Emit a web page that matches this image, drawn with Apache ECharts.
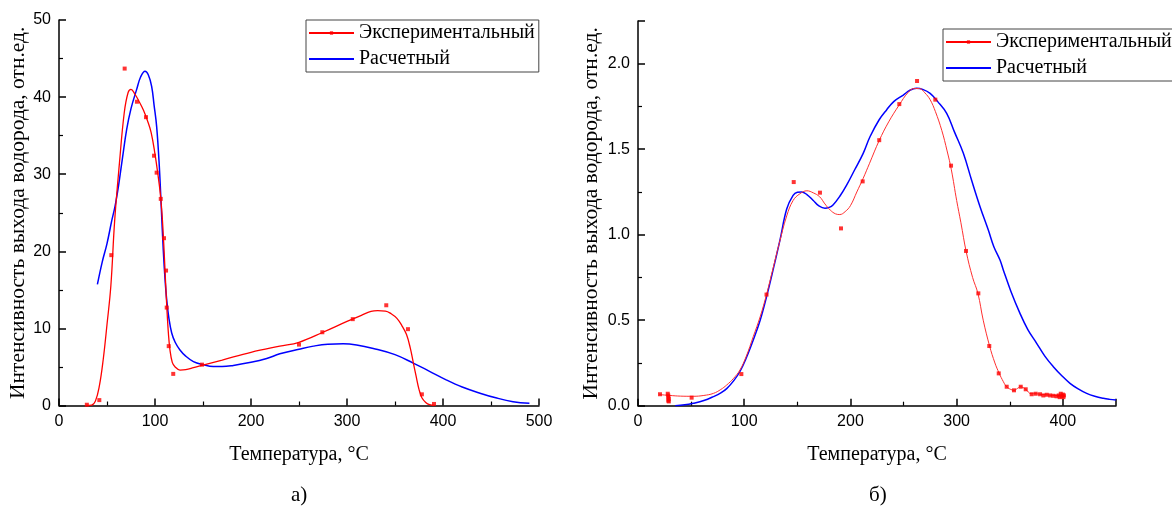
<!DOCTYPE html>
<html>
<head>
<meta charset="utf-8">
<script src="https://cdn.jsdelivr.net/npm/echarts@6/dist/echarts.min.js"></script>
<style>
  html, body { margin: 0; padding: 0; background: #fff; }
  #chart { width: 1172px; height: 513px; }
</style>
</head>
<body>
<div id="chart"></div>
<script>
// а) левый график: экспериментальные точки, сглаженная кривая и расчет
const expPointsA = [
  [29, 0.1], [42, 0.7], [54.5, 19.5], [68.4, 43.7], [81.2, 39.4], [90.6, 37.4], [99, 32.4],
  [101.7, 30.2], [106, 26.8], [109.4, 21.7], [111.5, 17.5], [112.2, 12.7], [114.3, 7.7],
  [119, 4.1], [149, 5.3], [250, 7.9], [274.3, 9.5], [306, 11.2], [340.9, 13.0],
  [363.5, 9.9], [378, 1.45], [390.6, 0.2]
];
const expCurveA = [
  [28, 0], [34, 0.05], [38, 0.6], [42, 2.5], [46, 5.9], [50, 10.5], [54, 15.5], [58, 24],
  [63, 31.5], [68, 38], [72, 40.6], [75, 41], [79, 40.4], [84, 39.3], [88, 38.3], [92, 37],
  [96, 35.4], [100, 32.6], [103, 30], [105.5, 27.5], [107.5, 24.5], [109.5, 20], [111, 16],
  [112.5, 12.3], [114, 9.3], [115.5, 7.3], [118, 5.6], [121, 5.0], [126, 4.6], [132, 4.65],
  [140, 4.9], [150, 5.25], [170, 5.9], [200, 6.9], [230, 7.7], [250, 8.2], [275, 9.5],
  [300, 10.9], [315, 11.7], [325, 12.2], [332, 12.3], [340, 12.25], [346, 11.9], [352, 11.3],
  [357, 10.4], [362, 9.2], [366, 7.4], [369, 5.6], [372, 3.8], [375, 2.1], [378, 1.0],
  [382, 0.4], [386, 0.1], [391, 0]
];
const calcCurveA = [
  [40, 15.7], [45, 18.6], [50, 21], [55, 24], [58.3, 25.8], [62, 28.5], [66, 32], [70.5, 35.8],
  [75, 38.5], [80.9, 41], [85, 42.6], [89.6, 43.35], [93, 42.9], [96.5, 41.4], [99, 39],
  [101.7, 36.2], [104.5, 31], [106.5, 25.8], [108.6, 20.2], [110.5, 16.3], [112.2, 13.7],
  [114.5, 11.3], [117.4, 9.4], [121, 8.2], [126, 7.2], [132, 6.4], [140, 5.7], [150, 5.3],
  [160.7, 5.05], [170, 5.05], [181.6, 5.2], [200, 5.6], [216.4, 6.1], [230, 6.7], [250, 7.3],
  [265, 7.7], [280, 7.95], [296, 8.0], [310, 7.85], [327.4, 7.4], [350, 6.6], [369, 5.5],
  [385, 4.5], [403.8, 3.3], [420, 2.4], [438.5, 1.6], [455, 1.0], [473, 0.5], [490, 0.3]
];

// б) правый график
const expPointsB = [
  [20.7, 0.067], [28, 0.07], [28.5, 0.06], [28.5, 0.05], [29, 0.04], [28.5, 0.03], [29, 0.025],
  [50.5, 0.047], [97.3, 0.185], [121, 0.65], [146.6, 1.308], [171.3, 1.246], [191.1, 1.037],
  [211.5, 1.312], [227.1, 1.553], [246, 1.764], [262.7, 1.899], [279.9, 1.79], [294.7, 1.404],
  [308.8, 0.905], [320.4, 0.657], [330.7, 0.349], [339.6, 0.189], [347.1, 0.111], [354, 0.09],
  [360.3, 0.111], [365, 0.096], [370.6, 0.067], [374.4, 0.07], [378.5, 0.067], [381.6, 0.06],
  [384.8, 0.064], [388, 0.06], [391, 0.058], [394, 0.055], [396, 0.06], [397, 0.05],
  [398, 0.07], [399, 0.055], [400, 0.065], [401, 0.06], [400.5, 0.05]
];
const expCurveB = [
  [20, 0.065], [30, 0.06], [40, 0.056], [52, 0.055], [62, 0.06], [71, 0.072], [78, 0.095],
  [83.5, 0.121], [90, 0.16], [96, 0.209], [102, 0.29], [108.5, 0.404], [115, 0.52], [121, 0.65],
  [127, 0.8], [133, 0.95], [140, 1.11], [146, 1.2], [152.5, 1.24], [159, 1.257], [165, 1.245],
  [171, 1.222], [176, 1.18], [181, 1.144], [186, 1.122], [190, 1.118], [195, 1.135], [200, 1.17],
  [206, 1.25], [212, 1.33], [218, 1.418], [227, 1.55], [236, 1.66], [246, 1.76], [254, 1.83],
  [260, 1.855], [265, 1.855], [270, 1.83], [275, 1.79], [280, 1.72], [286, 1.61], [291, 1.49],
  [295, 1.38], [300, 1.2], [304, 1.07], [309, 0.9], [315, 0.75], [320, 0.657], [325, 0.5],
  [331, 0.349], [336, 0.25], [340, 0.19], [344, 0.14], [347, 0.111], [351, 0.095], [354, 0.09],
  [357, 0.1], [360, 0.111], [365, 0.096], [370, 0.07], [375, 0.07], [380, 0.065], [385, 0.064],
  [390, 0.06], [395, 0.06], [400, 0.06]
];
const calcCurveB = [
  [35, 0.0], [44, 0.005], [52, 0.014], [62, 0.03], [71, 0.053], [78, 0.075], [83.5, 0.1],
  [90, 0.145], [96, 0.2], [102, 0.28], [108.5, 0.384], [115, 0.5], [121, 0.637], [127, 0.79],
  [133.7, 0.97], [140, 1.15], [146, 1.23], [150, 1.248], [154, 1.25], [159, 1.235], [165, 1.2],
  [170, 1.17], [176, 1.155], [180, 1.16], [183.6, 1.174], [190, 1.225], [196.4, 1.29],
  [204, 1.38], [212, 1.476], [218.4, 1.573], [226.9, 1.671], [234, 1.73], [241, 1.78],
  [249.8, 1.817], [256, 1.845], [262.3, 1.856], [268, 1.85], [275, 1.827], [282, 1.78],
  [290.6, 1.71], [298, 1.6], [306.3, 1.476], [314, 1.32], [322, 1.164], [329.8, 1.027],
  [335, 0.93], [340.8, 0.852], [343.9, 0.794], [351, 0.67], [359.6, 0.54], [367, 0.445],
  [375.3, 0.365], [383, 0.29], [391, 0.228], [399, 0.175], [406.7, 0.131], [414, 0.1],
  [422.4, 0.072], [430, 0.055], [438, 0.043], [444, 0.037], [450, 0.033]
];

const seriesNames = ['Экспериментальный', 'Расчетный'];
const yTitle = 'Интенсивность выхода водорода, отн.ед.';
const xTitle = 'Температура, °C';
const captions = ['а)', 'б)'];

const RED = '#ff0000';
const BLUE = '#0000ff';
const serif = '"Liberation Serif", "Times New Roman", serif';
const sans = '"Liberation Sans", Arial, sans-serif';

let chart = echarts.init(document.getElementById('chart'), null, { renderer: 'canvas' });

function xAxisOf(grid, max, gap) {
  return {
    gridIndex: grid, type: 'value', min: 0, max: max, interval: 100,
    name: xTitle, nameLocation: 'middle', nameGap: gap,
    nameTextStyle: { fontFamily: serif, fontSize: 20, color: '#000' },
    axisLine: { onZero: false, lineStyle: { color: '#000', width: 1.5 } },
    axisTick: { inside: true, length: 7, lineStyle: { color: '#000', width: 1.5 } },
    minorTick: { show: true, splitNumber: 2, length: 4, lineStyle: { color: '#000', width: 1.2 } },
    axisLabel: { fontFamily: sans, fontSize: 16, color: '#000', margin: 8, showMaxLabel: max === 500 },
    splitLine: { show: false }
  };
}

function yAxisOf(grid, max, interval, gap, fmt) {
  return {
    gridIndex: grid, type: 'value', min: 0, max: max, interval: interval,
    name: yTitle, nameLocation: 'middle', nameGap: gap, nameRotate: 90,
    nameTextStyle: { fontFamily: serif, fontSize: 21.5, color: '#000' },
    axisLine: { onZero: false, lineStyle: { color: '#000', width: 1.5 } },
    axisTick: { inside: true, length: 7, lineStyle: { color: '#000', width: 1.5 } },
    minorTick: { show: true, splitNumber: 2, length: 4, lineStyle: { color: '#000', width: 1.2 } },
    axisLabel: { fontFamily: sans, fontSize: 16, color: '#000', margin: 8, formatter: fmt, showMaxLabel: max === 50 },
    splitLine: { show: false }
  };
}

function legendAt(left, top) {
  return {
    left: left, top: top, orient: 'vertical',
    data: [seriesNames[0], { name: seriesNames[1], itemStyle: { opacity: 0 } }],
    itemWidth: 45, itemHeight: 4, itemGap: 6, itemTextGap: 5,
    padding: [3, 4, 3, 2],
    borderColor: '#444', borderWidth: 1, borderRadius: 0,
    textStyle: { fontFamily: serif, fontSize: 20, color: '#000' },
    selectedMode: false
  };
}

chart.setOption({
  animation: false,
  backgroundColor: '#fff',
  grid: [
    { left: 59, top: 20, width: 480, height: 385.5 },
    { left: 638, top: 21, width: 478, height: 384.7 }
  ],
  xAxis: [xAxisOf(0, 500, 39), xAxisOf(1, 450, 39)],
  yAxis: [
    yAxisOf(0, 50, 10, 28, v => String(v)),
    yAxisOf(1, 2.25, 0.5, 36, v => v.toFixed(1))
  ],
  legend: [legendAt(306, 20), legendAt(943, 29)],
  graphic: [
    { type: 'text', left: 291, top: 485, style: { text: captions[0], font: '21px ' + serif, fill: '#000' } },
    { type: 'text', left: 869, top: 485, style: { text: captions[1], font: '21px ' + serif, fill: '#000' } }
  ],
  series: [
    {
      name: seriesNames[0], type: 'line', xAxisIndex: 0, yAxisIndex: 0,
      data: expCurveA, smooth: 0.4, showSymbol: false, symbol: 'rect',
      lineStyle: { color: RED, width: 1.3 }, itemStyle: { color: RED }, z: 3
    },
    {
      name: seriesNames[0], type: 'scatter', xAxisIndex: 0, yAxisIndex: 0,
      data: expPointsA, symbol: 'rect', symbolSize: 4, itemStyle: { color: RED }, z: 4
    },
    {
      name: seriesNames[1], type: 'line', xAxisIndex: 0, yAxisIndex: 0,
      data: calcCurveA, smooth: 0.4, showSymbol: false, symbol: 'rect',
      lineStyle: { color: BLUE, width: 1.5 }, itemStyle: { color: BLUE }, z: 2
    },
    {
      name: seriesNames[0], type: 'line', xAxisIndex: 1, yAxisIndex: 1,
      data: expCurveB, smooth: 0.4, showSymbol: false, symbol: 'rect',
      lineStyle: { color: '#ff3030', width: 1 }, itemStyle: { color: RED }, z: 3
    },
    {
      name: seriesNames[0], type: 'scatter', xAxisIndex: 1, yAxisIndex: 1,
      data: expPointsB, symbol: 'rect', symbolSize: 4, itemStyle: { color: RED }, z: 4
    },
    {
      name: seriesNames[1], type: 'line', xAxisIndex: 1, yAxisIndex: 1,
      data: calcCurveB, smooth: 0.4, showSymbol: false, symbol: 'rect',
      lineStyle: { color: BLUE, width: 1.5 }, itemStyle: { color: BLUE }, z: 2
    }
  ]
});
</script>
</body>
</html>
